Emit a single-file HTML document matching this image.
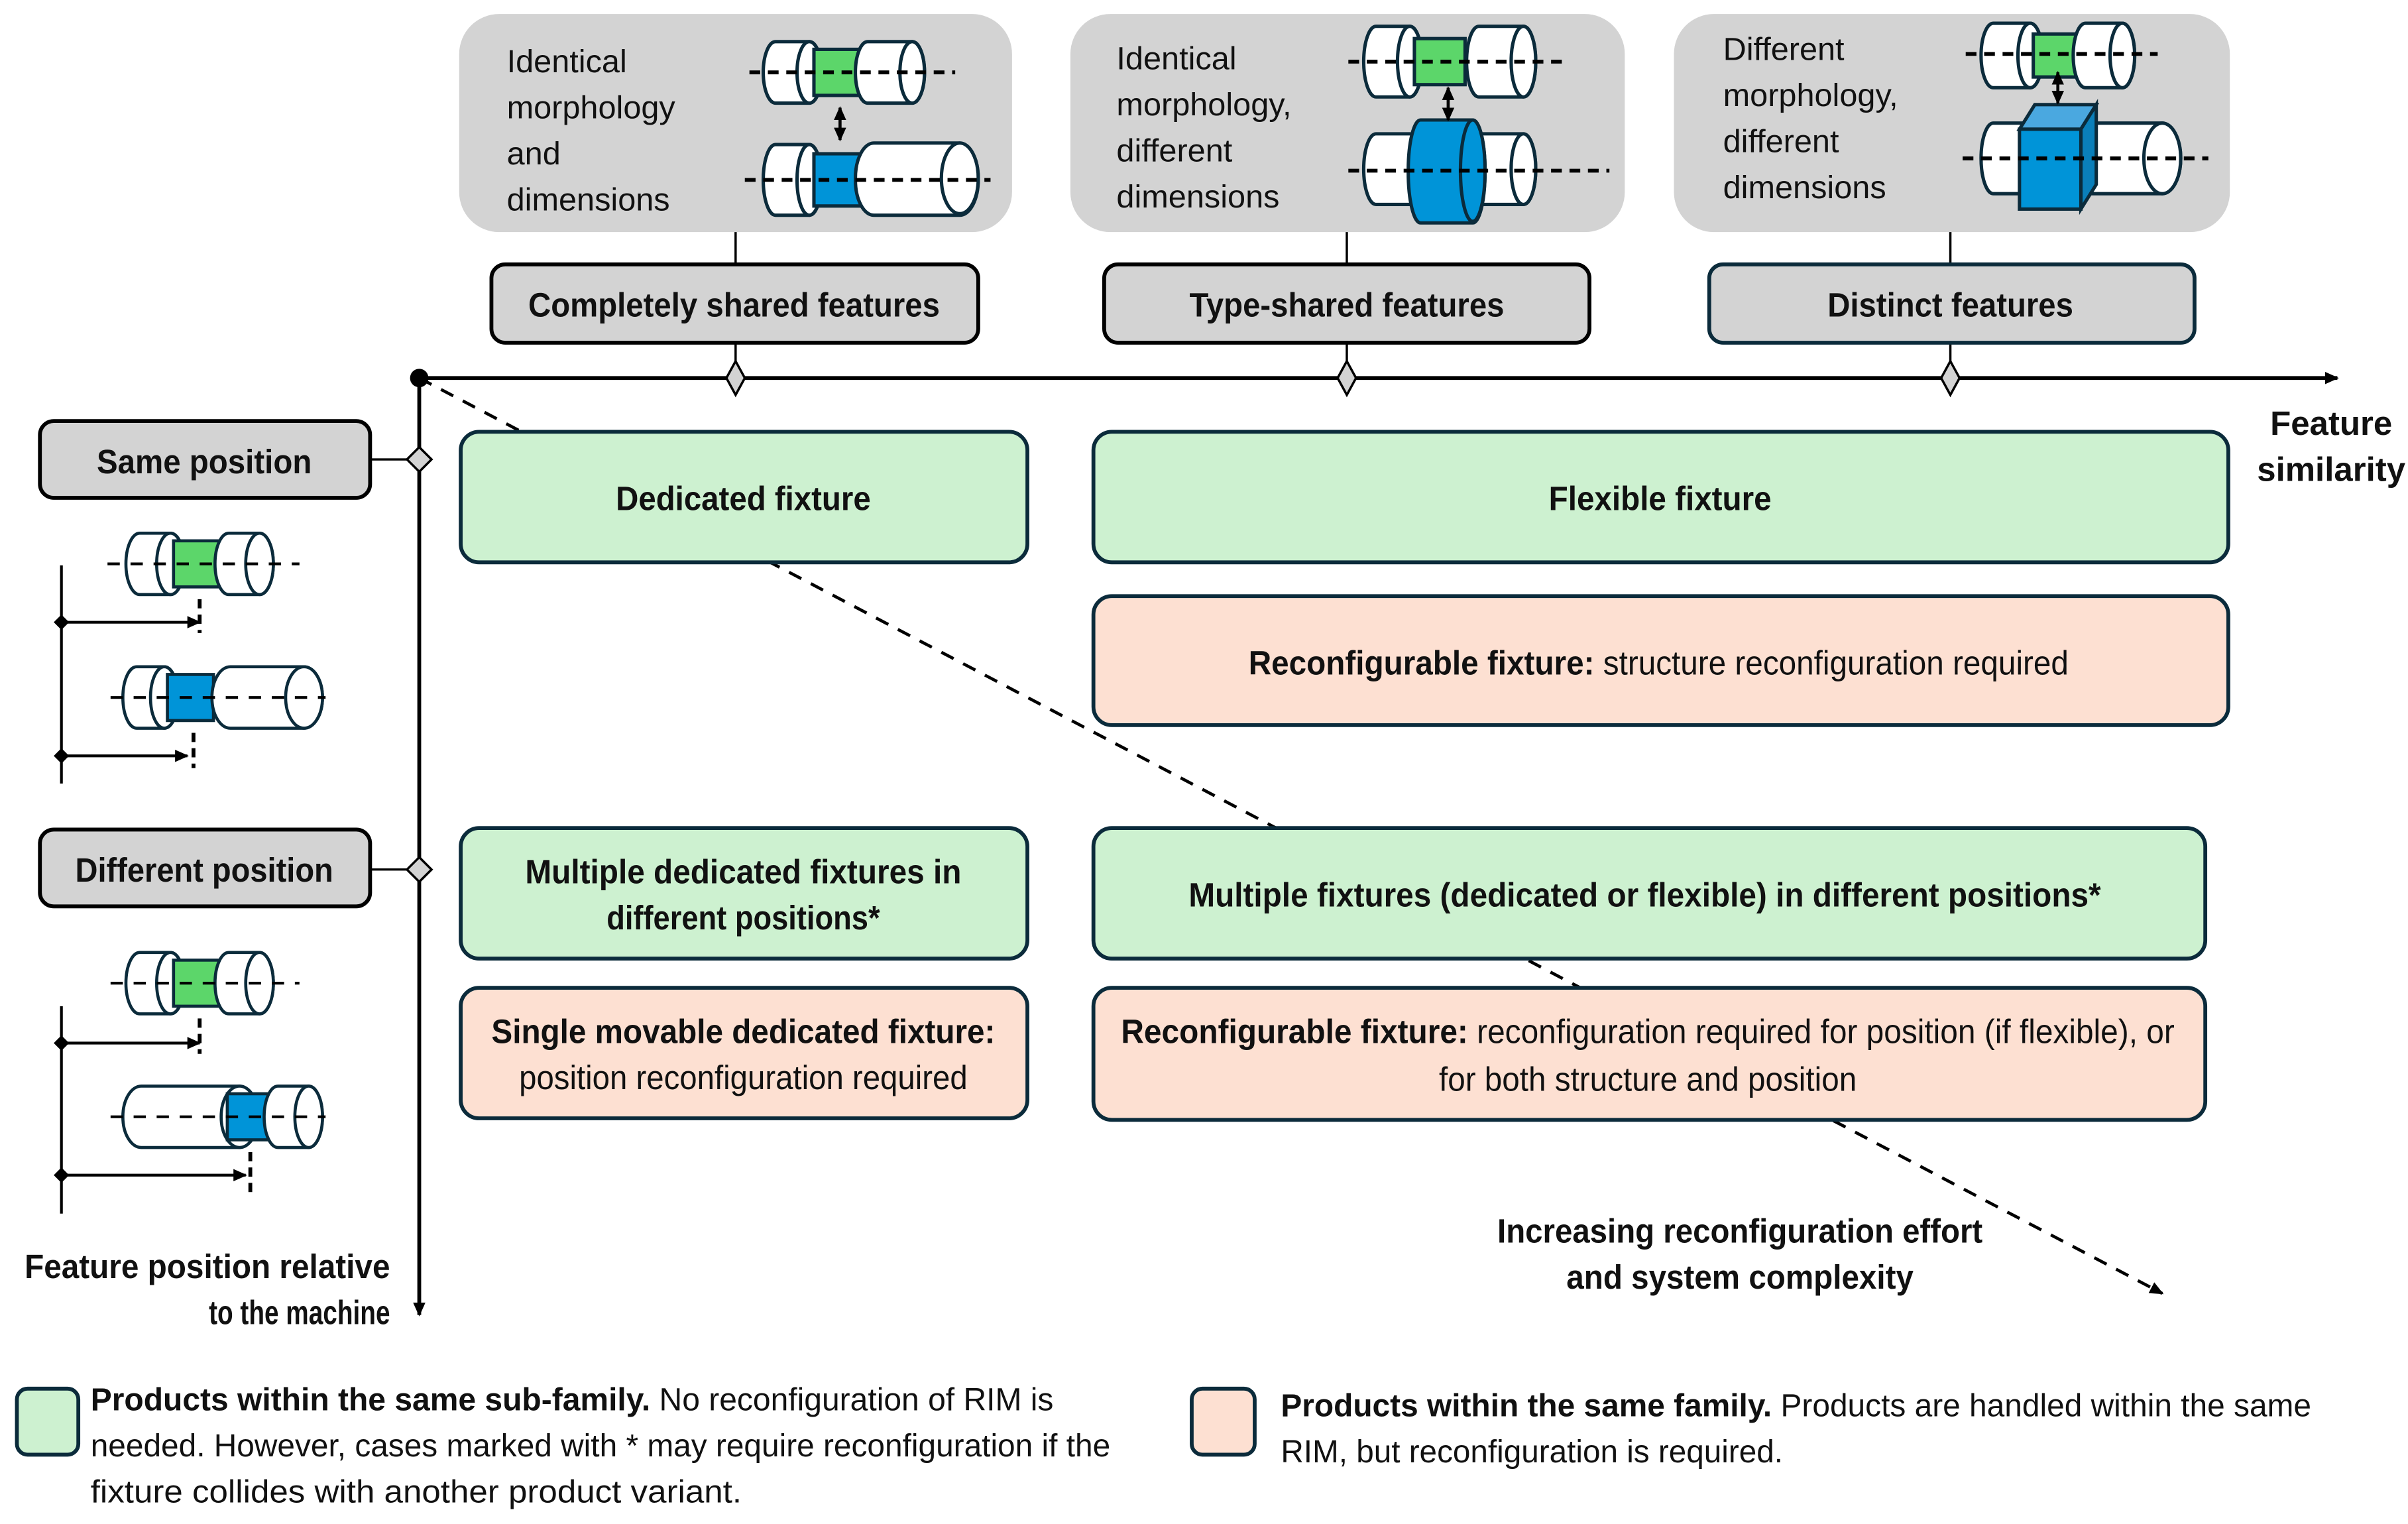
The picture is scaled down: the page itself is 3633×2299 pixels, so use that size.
<!DOCTYPE html>
<html><head><meta charset="utf-8">
<style>
html,body{margin:0;padding:0;background:#fff;}
svg{display:block;}
text{font-family:"Liberation Sans Narrow","Liberation Sans",sans-serif;fill:#111;}
.b{font-weight:bold;}
</style></head>
<body>
<svg width="3633" height="2299" viewBox="0 0 1568 992" xmlns="http://www.w3.org/2000/svg">
<defs>
<marker id="ah" markerWidth="10" markerHeight="10" refX="8" refY="5" orient="auto" markerUnits="userSpaceOnUse"><path d="M0,1 L9,5 L0,9 z" fill="#000"/></marker>
<marker id="ahs" markerWidth="10" markerHeight="10" refX="8" refY="5" orient="auto-start-reverse" markerUnits="userSpaceOnUse"><path d="M0,1 L9,5 L0,9 z" fill="#000"/></marker>
</defs>

<!-- diagonal dashed line (behind boxes) -->
<line x1="273" y1="246" x2="1408" y2="842" stroke="#000" stroke-width="2" stroke-dasharray="9,7" marker-end="url(#ah)"/>

<!-- top grey panels -->
<rect x="299" y="9" width="360" height="142" rx="26" fill="#d3d3d3"/>
<rect x="697" y="9" width="361" height="142" rx="26" fill="#d3d3d3"/>
<rect x="1090" y="9" width="362" height="142" rx="26" fill="#d3d3d3"/>

<g font-size="21">
<text x="330" y="47">Identical</text><text x="330" y="77">morphology</text><text x="330" y="107">and</text><text x="330" y="137">dimensions</text>
<text x="727" y="45">Identical</text><text x="727" y="75">morphology,</text><text x="727" y="105">different</text><text x="727" y="135">dimensions</text>
<text x="1122" y="39">Different</text><text x="1122" y="69">morphology,</text><text x="1122" y="99">different</text><text x="1122" y="129">dimensions</text>
</g>

<g stroke="#0b2b3b" stroke-width="2.2">
<!-- panel 1 -->
<rect x="497" y="27" width="38" height="40" rx="8" ry="20" fill="#fff"/><ellipse cx="527" cy="47" rx="8" ry="20" fill="#fff"/>
<rect x="530" y="32" width="32" height="30" fill="#5cd66a"/>
<rect x="557" y="27" width="45" height="40" rx="8" ry="20" fill="#fff"/><ellipse cx="594" cy="47" rx="8" ry="20" fill="#fff"/>
<rect x="497" y="94" width="38" height="46" rx="8" ry="23" fill="#fff"/><ellipse cx="527" cy="117" rx="8" ry="23" fill="#fff"/>
<rect x="530" y="100" width="32" height="34" fill="#0094d8"/>
<rect x="557" y="93" width="80" height="47" rx="12" ry="23" fill="#fff"/><ellipse cx="625" cy="116" rx="12" ry="23" fill="#fff"/>
<!-- panel 2 -->
<rect x="888" y="17" width="38" height="46" rx="8" ry="23" fill="#fff"/><ellipse cx="918" cy="40" rx="8" ry="23" fill="#fff"/>
<rect x="921" y="25" width="33" height="30" fill="#5cd66a"/>
<rect x="955" y="17" width="45" height="46" rx="8" ry="23" fill="#fff"/><ellipse cx="992" cy="40" rx="8" ry="23" fill="#fff"/>
<rect x="888" y="87" width="38" height="46" rx="8" ry="23" fill="#fff"/>
<rect x="955" y="87" width="45" height="46" rx="8" ry="23" fill="#fff"/><ellipse cx="992" cy="110" rx="8" ry="23" fill="#fff"/>
<rect x="917" y="78" width="50" height="67" rx="8" ry="33" fill="#0094d8"/><ellipse cx="959" cy="111" rx="8" ry="33" fill="#0094d8"/>
<!-- panel 3 -->
<rect x="1290" y="15" width="40" height="42" rx="8" ry="21" fill="#fff"/><ellipse cx="1322" cy="36" rx="8" ry="21" fill="#fff"/>
<rect x="1324" y="22" width="30" height="28" fill="#5cd66a"/>
<rect x="1350" y="15" width="40" height="42" rx="8" ry="21" fill="#fff"/><ellipse cx="1382" cy="36" rx="8" ry="21" fill="#fff"/>
<rect x="1290" y="80" width="40" height="46" rx="8" ry="23" fill="#fff"/>
<rect x="1350" y="80" width="70" height="46" rx="12" ry="23" fill="#fff"/><ellipse cx="1408" cy="103" rx="12" ry="23" fill="#fff"/>
<path d="M1315,84 L1325,68 L1365,68 L1355,84 z" fill="#4aa8e0"/>
<path d="M1355,84 L1365,68 L1365,120 L1355,136 z" fill="#0a7fba"/>
<rect x="1315" y="84" width="40" height="52" fill="#0094d8"/>
</g>
<g stroke="#000" stroke-width="2.5" stroke-dasharray="7,5">
<line x1="488" y1="47" x2="622" y2="47"/><line x1="485" y1="117" x2="645" y2="117"/>
<line x1="878" y1="40" x2="1020" y2="40"/><line x1="878" y1="111" x2="1048" y2="111"/>
<line x1="1280" y1="35" x2="1405" y2="35"/><line x1="1278" y1="103" x2="1438" y2="103"/>
</g>
<g stroke="#000" stroke-width="2">
<line x1="547" y1="70" x2="547" y2="91" marker-end="url(#ah)" marker-start="url(#ahs)"/>
<line x1="943" y1="57" x2="943" y2="78" marker-end="url(#ah)" marker-start="url(#ahs)"/>
<line x1="1340" y1="47" x2="1340" y2="67" marker-end="url(#ah)" marker-start="url(#ahs)"/>
</g>

<!-- connectors -->
<g stroke="#000" stroke-width="1.5">
<line x1="479" y1="151" x2="479" y2="246"/><line x1="877" y1="151" x2="877" y2="246"/><line x1="1270" y1="151" x2="1270" y2="246"/>
<line x1="241" y1="299" x2="273" y2="299"/><line x1="241" y1="566" x2="273" y2="566"/>
</g>

<!-- category boxes -->
<g stroke-width="2.5" fill="#d3d3d3">
<rect x="320" y="172" width="317" height="51" rx="9" stroke="#000"/>
<rect x="719" y="172" width="316" height="51" rx="9" stroke="#000"/>
<rect x="1113" y="172" width="316" height="51" rx="9" stroke="#0b2b3b"/>
<rect x="26" y="274" width="215" height="50" rx="9" stroke="#000"/>
<rect x="26" y="540" width="215" height="50" rx="9" stroke="#000"/>
</g>
<g class="b" font-size="22" text-anchor="middle" font-weight="bold">
<text x="478" y="206" font-weight="bold" textLength="268" lengthAdjust="spacingAndGlyphs">Completely shared features</text>
<text x="877" y="206" font-weight="bold" textLength="205" lengthAdjust="spacingAndGlyphs">Type-shared features</text>
<text x="1270" y="206" font-weight="bold" textLength="160" lengthAdjust="spacingAndGlyphs">Distinct features</text>
<text x="133" y="308" font-weight="bold" textLength="140" lengthAdjust="spacingAndGlyphs">Same position</text>
<text x="133" y="574" font-weight="bold" textLength="168" lengthAdjust="spacingAndGlyphs">Different position</text>
</g>

<!-- axes -->
<line x1="273" y1="246" x2="1522" y2="246" stroke="#000" stroke-width="2.5" marker-end="url(#ah)"/>
<line x1="273" y1="246" x2="273" y2="856" stroke="#000" stroke-width="2.5" marker-end="url(#ah)"/>
<circle cx="273" cy="246" r="6" fill="#000"/>
<g fill="#d3d3d3" stroke="#000" stroke-width="1.5">
<path d="M479,235 L485,246 L479,257 L473,246 z"/>
<path d="M877,235 L883,246 L877,257 L871,246 z"/>
<path d="M1270,235 L1276,246 L1270,257 L1264,246 z"/>
<path d="M273,291 L281,299 L273,307 L265,299 z"/>
<path d="M273,558 L281,566 L273,574 L265,566 z"/>
</g>
<g font-size="22" font-weight="bold" text-anchor="middle">
<text x="1518" y="283" font-weight="bold">Feature</text>
<text x="1518" y="313" font-weight="bold">similarity</text>
<text x="1133" y="809" font-weight="bold" textLength="316" lengthAdjust="spacingAndGlyphs">Increasing reconfiguration effort</text>
<text x="1133" y="839" font-weight="bold" textLength="226" lengthAdjust="spacingAndGlyphs">and system complexity</text>
</g>
<g font-size="22" font-weight="bold" text-anchor="end">
<text x="254" y="832" font-weight="bold" textLength="238" lengthAdjust="spacingAndGlyphs">Feature position relative</text>
<text x="254" y="862" font-weight="bold" textLength="118" lengthAdjust="spacingAndGlyphs">to the machine</text>
</g>

<!-- fixture boxes -->
<g stroke="#0b2b3b" stroke-width="2.5">
<rect x="300" y="281" width="369" height="85" rx="12" fill="#cdf1d0"/>
<rect x="712" y="281" width="739" height="85" rx="12" fill="#cdf1d0"/>
<rect x="712" y="388" width="739" height="84" rx="12" fill="#fde0d2"/>
<rect x="300" y="539" width="369" height="85" rx="12" fill="#cdf1d0"/>
<rect x="712" y="539" width="724" height="85" rx="12" fill="#cdf1d0"/>
<rect x="300" y="643" width="369" height="85" rx="12" fill="#fde0d2"/>
<rect x="712" y="643" width="724" height="86" rx="12" fill="#fde0d2"/>
</g>
<g font-size="22" text-anchor="middle">
<text x="484" y="332" font-weight="bold" textLength="166" lengthAdjust="spacingAndGlyphs">Dedicated fixture</text>
<text x="1081" y="332" font-weight="bold" textLength="145" lengthAdjust="spacingAndGlyphs">Flexible fixture</text>
<text x="1080" y="439" textLength="534" lengthAdjust="spacingAndGlyphs"><tspan font-weight="bold">Reconfigurable fixture:</tspan> structure reconfiguration required</text>
<text x="484" y="575" font-weight="bold" textLength="284" lengthAdjust="spacingAndGlyphs">Multiple dedicated fixtures in</text>
<text x="484" y="605" font-weight="bold" textLength="178" lengthAdjust="spacingAndGlyphs">different positions*</text>
<text x="1071" y="590" font-weight="bold" textLength="594" lengthAdjust="spacingAndGlyphs">Multiple fixtures (dedicated or flexible) in different positions*</text>
<text x="484" y="679" font-weight="bold" textLength="328" lengthAdjust="spacingAndGlyphs">Single movable dedicated fixture:</text>
<text x="484" y="709" textLength="292" lengthAdjust="spacingAndGlyphs">position reconfiguration required</text>
<text x="1073" y="679" textLength="686" lengthAdjust="spacingAndGlyphs"><tspan font-weight="bold">Reconfigurable fixture:</tspan> reconfiguration required for position (if flexible), or</text>
<text x="1073" y="710" textLength="272" lengthAdjust="spacingAndGlyphs">for both structure and position</text>
</g>

<!-- left cylinder illustrations -->
<g stroke="#0b2b3b" stroke-width="2">
<!-- same pos top -->
<rect x="82" y="347" width="38" height="40" rx="9" ry="20" fill="#fff"/><ellipse cx="111" cy="367" rx="9" ry="20" fill="#fff"/>
<rect x="113" y="352" width="30" height="30" fill="#5cd66a"/>
<rect x="140" y="347" width="38" height="40" rx="9" ry="20" fill="#fff"/><ellipse cx="169" cy="367" rx="9" ry="20" fill="#fff"/>
<!-- same pos bottom -->
<rect x="80" y="434" width="36" height="40" rx="9" ry="20" fill="#fff"/><ellipse cx="107" cy="454" rx="9" ry="20" fill="#fff"/>
<rect x="109" y="439" width="30" height="30" fill="#0094d8"/>
<rect x="138" y="434" width="72" height="40" rx="12" ry="20" fill="#fff"/><ellipse cx="198" cy="454" rx="12" ry="20" fill="#fff"/>
<!-- diff pos top -->
<rect x="82" y="620" width="38" height="40" rx="9" ry="20" fill="#fff"/><ellipse cx="111" cy="640" rx="9" ry="20" fill="#fff"/>
<rect x="113" y="625" width="30" height="30" fill="#5cd66a"/>
<rect x="140" y="620" width="38" height="40" rx="9" ry="20" fill="#fff"/><ellipse cx="169" cy="640" rx="9" ry="20" fill="#fff"/>
<!-- diff pos bottom -->
<rect x="80" y="707" width="88" height="40" rx="12" ry="20" fill="#fff"/><ellipse cx="156" cy="727" rx="12" ry="20" fill="#fff"/>
<rect x="148" y="712" width="28" height="30" fill="#0094d8"/>
<rect x="172" y="707" width="38" height="40" rx="9" ry="20" fill="#fff"/><ellipse cx="201" cy="727" rx="9" ry="20" fill="#fff"/>
</g>
<g stroke="#000" stroke-width="1.8" stroke-dasharray="8,7">
<line x1="70" y1="367" x2="195" y2="367"/><line x1="72" y1="454" x2="212" y2="454"/>
<line x1="72" y1="640" x2="195" y2="640"/><line x1="72" y1="727" x2="212" y2="727"/>
</g>
<g stroke="#000" stroke-width="2.5" stroke-dasharray="6,4">
<line x1="130" y1="390" x2="130" y2="412"/><line x1="126" y1="477" x2="126" y2="500"/>
<line x1="130" y1="663" x2="130" y2="686"/><line x1="163" y1="750" x2="163" y2="778"/>
</g>
<g stroke="#000" stroke-width="1.8">
<line x1="40" y1="368" x2="40" y2="510"/><line x1="40" y1="655" x2="40" y2="790"/>
<line x1="40" y1="405" x2="130" y2="405" marker-end="url(#ah)"/>
<line x1="40" y1="492" x2="122" y2="492" marker-end="url(#ah)"/>
<line x1="40" y1="679" x2="130" y2="679" marker-end="url(#ah)"/>
<line x1="40" y1="765" x2="160" y2="765" marker-end="url(#ah)"/>
</g>
<g fill="#000">
<path d="M35,405 L40,400 L45,405 L40,410 z"/><path d="M35,492 L40,487 L45,492 L40,497 z"/>
<path d="M35,679 L40,674 L45,679 L40,684 z"/><path d="M35,765 L40,760 L45,765 L40,770 z"/>
</g>

<!-- legend -->
<rect x="11" y="904" width="40" height="43" rx="7" fill="#cdf1d0" stroke="#0b2b3b" stroke-width="2.5"/>
<rect x="776" y="904" width="41" height="43" rx="7" fill="#fde0d2" stroke="#0b2b3b" stroke-width="2.5"/>
<g font-size="21">
<text x="59" y="918" textLength="627" lengthAdjust="spacingAndGlyphs"><tspan font-weight="bold">Products within the same sub-family.</tspan> No reconfiguration of RIM is</text>
<text x="59" y="948" textLength="664" lengthAdjust="spacingAndGlyphs">needed. However, cases marked with * may require reconfiguration if the</text>
<text x="59" y="978" textLength="424" lengthAdjust="spacingAndGlyphs">fixture collides with another product variant.</text>
<text x="834" y="922" textLength="671" lengthAdjust="spacingAndGlyphs"><tspan font-weight="bold">Products within the same family.</tspan> Products are handled within the same</text>
<text x="834" y="952" textLength="327" lengthAdjust="spacingAndGlyphs">RIM, but reconfiguration is required.</text>
</g>
</svg>
</body></html>
